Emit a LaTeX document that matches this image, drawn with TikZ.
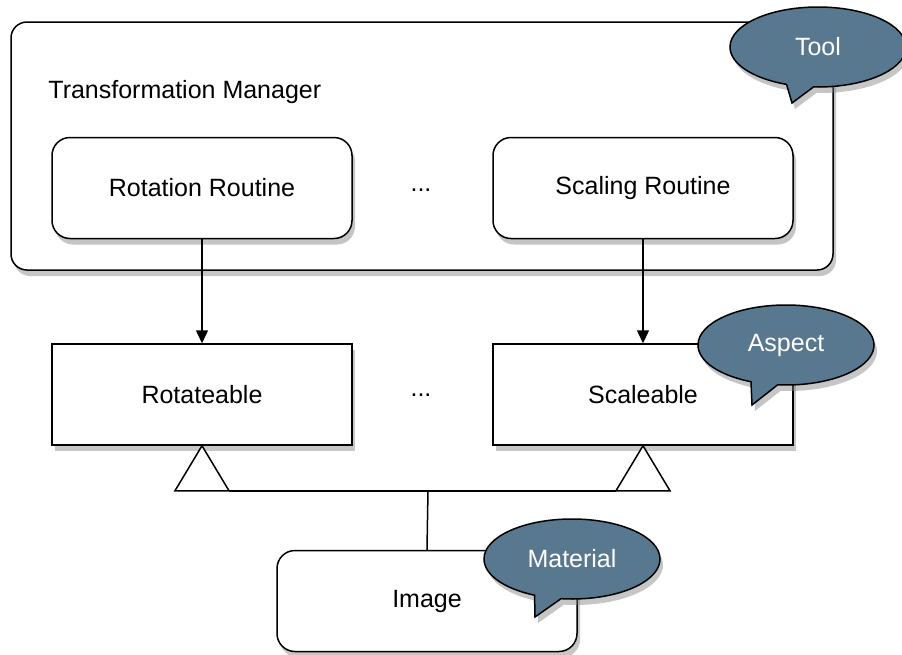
\documentclass[tikz,border=0pt]{standalone}
\usepackage{fontspec}
\setmainfont{Liberation Sans}
\usetikzlibrary{shapes.callouts,shadows,arrows.meta}

\definecolor{bubblefill}{HTML}{587890}

\begin{document}
\begin{tikzpicture}[
    x=0.5pt,y=-0.5pt,
    >={Triangle[length=6.5pt,width=6pt]},
    font=\fontsize{12.5}{15}\selectfont,
    line width=0.75pt,
    shade/.style={
      drop shadow={shadow xshift=1.5pt,shadow yshift=-3pt,opacity=0.45}
    },
    routine/.style={
      draw,
      fill=white,
      rounded corners=9pt,
      minimum width=150pt,
      minimum height=50.5pt,
      shade
    },
    facet/.style={
      draw,
      fill=white,
      minimum width=150pt,
      minimum height=50.5pt,
      shade
    },
    dependency/.style={
      ->,
      line width=0.75pt
    },
    bubble/.style={
      ellipse callout,
      draw,
      fill=bubblefill,
      text=white,
      minimum width=88pt,
      minimum height=40pt,
      inner sep=0pt,
      callout pointer arc=18,
      shade
    }
  ]
    \useasboundingbox (0,0) rectangle (902,655);

    \node[draw,fill=white,rounded corners=8pt,minimum width=411pt,
      minimum height=124pt,shade] (manager) at (422,146) {};
    \node[anchor=west] (managerlabel) at (41,92) {Transformation Manager};

    \node[routine] (rotroutine) at (202,188) {Rotation Routine};
    \node[routine] (scaleroutine) at (643,188) {Scaling Routine};
    \node (dotsa) at (421,190) {...};

    \node[facet] (rotateable) at (202,394.5) {Rotateable};
    \node[facet] (scaleable) at (643,394.5) {Scaleable};
    \node (dotsb) at (421,395) {...};

    \node[routine] (image) at (427,601) {Image};

    \draw[dependency] (rotroutine) -- (rotateable);
    \draw[dependency] (scaleroutine) -- (scaleable);

    % generalisation triangles
    \draw[fill=white] (rotateable.south) -- ++(-27,45) coordinate (lbl)
      -- ++(54,0) coordinate (lbr) -- cycle;
    \draw[fill=white] (scaleable.south) -- ++(-27,45) coordinate (rbl)
      -- ++(54,0) coordinate (rbr) -- cycle;
    \draw (lbr) -- (rbl);
    \coordinate (joint) at (428,490);
    \draw (joint) -- (image.north);

    \node[bubble,callout absolute pointer={(792,103)}] (tool) at (818,47) {Tool};
    \node[bubble,callout absolute pointer={(752,405)}] (aspect) at (786,345) {Aspect};
    \node[bubble,callout absolute pointer={(535,617)}] (material) at (572,559) {Material};
  \end{tikzpicture}
\end{document}
